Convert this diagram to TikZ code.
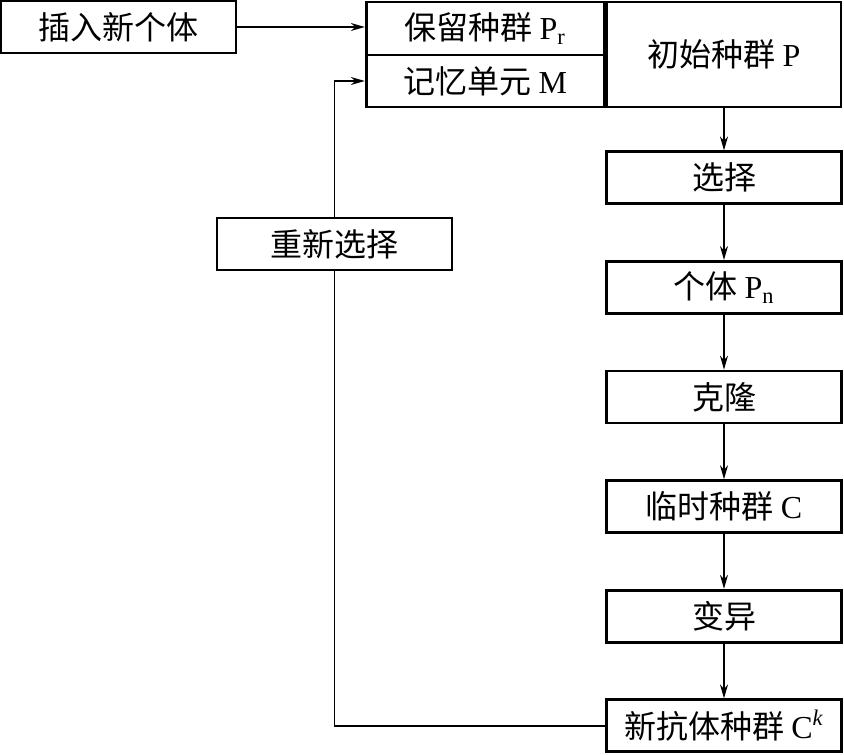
\documentclass[tikz,border=0pt]{standalone}
\usepackage{fontspec}
\setmainfont{Liberation Serif}
\newfontfamily\cjk{Noto Sans CJK SC}
\newcommand{\lat}[1]{{\rmfamily #1}}
\usetikzlibrary{arrows.meta,positioning}

\begin{document}
\begin{tikzpicture}[
    x=0.5pt,y=-0.5pt,
    node distance=27.4pt,
    box/.style={draw=black,line width=1.4pt,fill=none,
      align=center,minimum width=117.5pt,minimum height=26pt,inner sep=0pt,
      font=\fontsize{16pt}{18pt}\selectfont\cjk},
    arrow/.style={-{Stealth[length=7pt,width=4pt]},draw=black,line width=0.7pt},
    line/.style={draw=black,line width=0.7pt}
  ]
    \useasboundingbox (0,0) rectangle (844,754);
    \node[box] (insert) at (118.5,27) {插入新个体};
    \node[box,minimum width=117pt,minimum height=52.5pt] (init) at (724,54.5) {初始种群 \lat{P}};
    \node[box,minimum width=119pt,minimum height=26.5pt,below left=0pt and 0pt of init.north west] (keep) {保留种群 \lat{P\textsubscript{r}}};
    \node[box,minimum width=119pt,minimum height=26pt,above left=0pt and 0pt of init.south west] (mem) {记忆单元 \lat{M}};
    \node[box,below=21pt of init] (sel) {选择};
    \node[box,below=of sel] (pn) {个体 \lat{P\textsubscript{n}}};
    \node[box,below=of pn] (clone) {克隆};
    \node[box,below=of clone] (temp) {临时种群 \lat{C}};
    \node[box,below=of temp] (mut) {变异};
    \node[box,below=of mut] (newab) {新抗体种群 \lat{C\textsuperscript{\textit{k}}}};
    \node[box] (reselect) at (334.5,244) {重新选择};
    \draw[arrow] (insert.east) -- (insert.east -| keep.west);
    \draw[arrow] (init) -- (sel);
    \draw[arrow] (sel) -- (pn);
    \draw[arrow] (pn) -- (clone);
    \draw[arrow] (clone) -- (temp);
    \draw[arrow] (temp) -- (mut);
    \draw[arrow] (mut) -- (newab);
    \draw[line] (newab.west) -| (reselect.south);
    \draw[arrow] (reselect.north) |- (mem.west);
  \end{tikzpicture}
\end{document}
